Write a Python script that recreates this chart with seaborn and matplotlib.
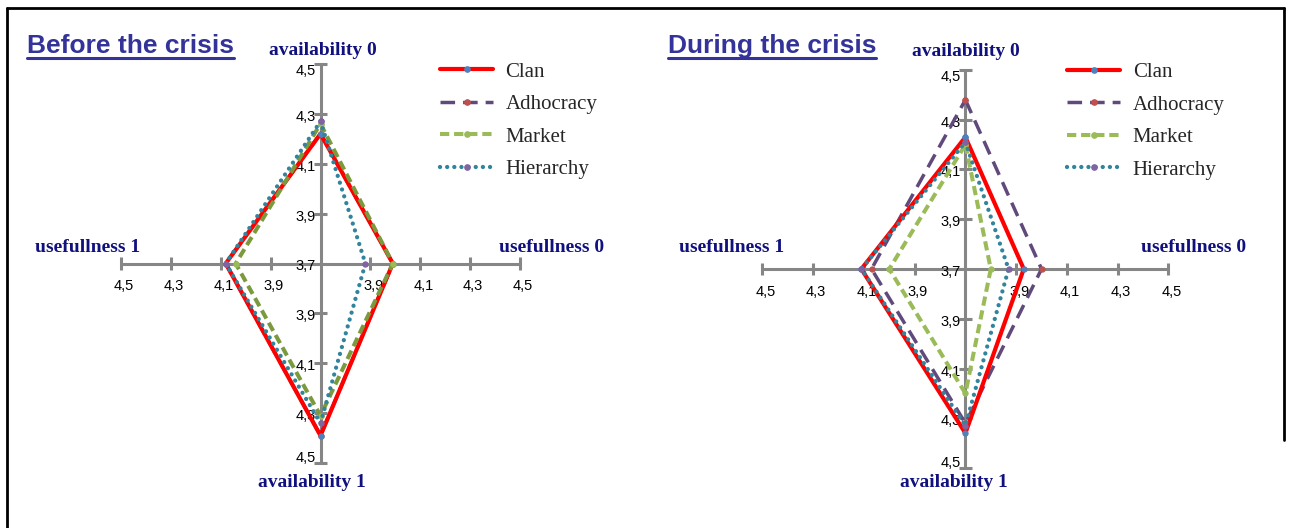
import matplotlib
matplotlib.use("Agg")
import matplotlib.pyplot as plt
from matplotlib.lines import Line2D
from matplotlib.font_manager import FontProperties
import pandas as pd
import seaborn as sns

# ---------------- data ----------------
axis_names = ["availability 0", "usefullness 0", "availability 1", "usefullness 1"]
series_names = ["Clan", "Adhocracy", "Market", "Hierarchy"]
tick_values = [3.7, 3.9, 4.1, 4.3, 4.5]
tick_labels = ["3,7", "3,9", "4,1", "4,3", "4,5"]
panel_titles = ["Before the crisis", "During the crisis"]

# values in order: availability 0, usefullness 0, availability 1, usefullness 1
before_clan = [4.22, 3.99, 4.39, 4.08]
before_adhocracy = [4.22, 3.99, 4.39, 4.08]
before_market = [4.26, 3.99, 4.31, 4.04]
before_hierarchy = [4.27, 3.88, 4.34, 4.08]

during_clan = [4.23, 3.93, 4.36, 4.11]
during_adhocracy = [4.38, 4.00, 4.32, 4.07]
during_market = [4.20, 3.80, 4.20, 4.00]
during_hierarchy = [4.21, 3.87, 4.33, 4.11]

# ---------------- styles ----------------
sns.set_theme(style="white")
plt.rcParams["font.family"] = ["DejaVu Sans"]

line_colors = {"Clan": "#FF0000", "Adhocracy": "#604A7B", "Market": "#9BBB59", "Hierarchy": "#31849B"}
marker_colors = {"Clan": "#4F81BD", "Adhocracy": "#C0504D", "Market": "#9BBB59", "Hierarchy": "#8064A2"}
line_styles = {"Clan": "-", "Adhocracy": (0, (4.2, 2.3)), "Market": (0, (2.3, 1.2)),
               "Hierarchy": (0, (0.01, 1.65))}
line_widths = {"Clan": 3.0, "Adhocracy": 2.5, "Market": 2.9, "Hierarchy": 3.1}
series_z = {"Clan": 4.0, "Adhocracy": 3.8, "Market": 4.1, "Hierarchy": 4.2}
axis_color = "#868686"
name_color = "#10107F"
title_color = "#333399"

W, H = 1292, 528
fig = plt.figure(figsize=(W / 100, H / 100), dpi=100)
fig.patch.set_facecolor("white")

dirs = [(0, 1), (1, 0), (0, -1), (-1, 0)]
origin = tick_values[0]
span = tick_values[-1] - origin


def polygon_frame(values, name):
    xs, ys = [], []
    for (dx, dy), v in zip(dirs, values):
        r = v - origin
        xs.append(dx * r)
        ys.append(dy * r)
    xs.append(xs[0])
    ys.append(ys[0])
    return pd.DataFrame({"x": xs, "y": ys, "series": name, "step": range(len(xs))})


def px2pt(p):
    return p * 72.0 / 100.0


def draw_panel(rect, panel_values, colors, name_pos, title, title_x):
    ax = fig.add_axes(rect)
    ax.set_xlim(-0.9, 0.9)
    ax.set_ylim(-0.9, 0.9)
    ax.axis("off")

    # axes cross
    ax.plot([-span, span], [0, 0], color=axis_color, lw=2.2, solid_capstyle="butt", zorder=1)
    ax.plot([0, 0], [-span, span], color=axis_color, lw=2.2, solid_capstyle="butt", zorder=1)
    tl = 0.025
    for t in tick_values[1:]:
        r = t - origin
        for s in (-1, 1):
            ax.plot([s * r, s * r], [-tl, tl], color=axis_color, lw=2.2, solid_capstyle="butt", zorder=1)
            ax.plot([-tl, tl], [s * r, s * r], color=axis_color, lw=2.2, solid_capstyle="butt", zorder=1)

    tick_font = dict(family="Liberation Sans", size=10.5, color="black")
    # vertical axis labels
    for t, lab in zip(tick_values, tick_labels):
        r = t - origin
        sides = (1,) if r == 0 else (1, -1)
        for s in sides:
            if t == tick_values[-1]:
                dy = -11 if s == 1 else 1
            else:
                dy = -7
            ax.annotate(lab, xy=(0, s * r), xytext=(px2pt(-5), px2pt(dy)),
                        textcoords="offset points", ha="right", va="baseline", zorder=3, **tick_font)
    # horizontal axis labels
    for t, lab in zip(tick_values[1:], tick_labels[1:]):
        r = t - origin
        for s in (-1, 1):
            ax.annotate(lab, xy=(s * r, 0), xytext=(px2pt(3), px2pt(-27)),
                        textcoords="offset points", ha="center", va="baseline", zorder=3, **tick_font)

    # series
    for name, vals in zip(series_names, panel_values):
        df = polygon_frame(vals, name)
        sns.lineplot(data=df, x="x", y="y", sort=False, estimator=None, ax=ax,
                     color=colors[name], linestyle=line_styles[name], lw=line_widths[name],
                     dash_capstyle="round" if name == "Hierarchy" else "butt",
                     marker="o", ms=3.8, mfc=marker_colors[name], mec=marker_colors[name],
                     legend=False, zorder=series_z[name])

    # axis names
    name_font = dict(family="Liberation Serif", size=14, weight="bold", color=name_color)
    for label, (x, y, ha) in zip(axis_names, name_pos):
        ax.text(x, y, label, ha=ha, va="baseline", **name_font)

    # title
    t = fig.text(title_x / W, 1 - 53 / H, title, ha="left", va="baseline",
                 family="Liberation Sans", weight="bold", size=19, color=title_color)
    return ax, t


axL, tL = draw_panel(
    [(320.5 - 224.5) / W, (H - 263.5 - 224.5) / H, 449 / W, 449 / H],
    [before_clan, before_adhocracy, before_market, before_hierarchy],
    {**line_colors, "Market": "#7A9A3D"},
    [(0.01, 0.836, "center"), (0.715, 0.047, "left"), (-0.034, -0.895, "center"), (-0.724, 0.047, "right")],
    panel_titles[0], 27)

axR, tR = draw_panel(
    [(965.4 - 228.4) / W, (H - 269 - 223.9) / H, 456.8 / W, 447.8 / H],
    [during_clan, during_adhocracy, during_market, during_hierarchy],
    line_colors,
    [(0.0, 0.856, "center"), (0.69, 0.07, "left"), (-0.045, -0.876, "center"), (-0.716, 0.07, "right")],
    panel_titles[1], 668)

# legends
handles = [Line2D([], [], color=line_colors[n], linestyle=line_styles[n], lw=line_widths[n],
                  dash_capstyle="round" if n == "Hierarchy" else "butt",
                  marker="o", ms=3.8, mfc=marker_colors[n], mec=marker_colors[n])
           for n in series_names]
leg_font = FontProperties(family="Liberation Serif", size=15)
for lx, ltop in ((440, 62), (1067, 62.5)):
    fig.legend(handles=handles, labels=series_names, loc="upper left",
               bbox_to_anchor=(lx / W, 1 - ltop / H), frameon=False, borderpad=0,
               borderaxespad=0, handlelength=2.55, handletextpad=0.6, labelspacing=0.62,
               numpoints=1, prop=leg_font)

# underline titles
fig.canvas.draw()
for t in (tL, tR):
    bb = t.get_window_extent()
    y = (H - 57.5) / H
    fig.add_artist(Line2D([bb.x0 / W, bb.x1 / W], [y, y], transform=fig.transFigure,
                          color=title_color, lw=2.2))

# frame
fig.add_artist(Line2D([7 / W, 7 / W], [0, 1 - 8 / H], transform=fig.transFigure, color="black", lw=2))
fig.add_artist(Line2D([7 / W, 1284 / W], [1 - 8 / H, 1 - 8 / H], transform=fig.transFigure, color="black", lw=2))
fig.add_artist(Line2D([1284 / W, 1284 / W], [1 - 8 / H, 1 - 440 / H], transform=fig.transFigure, color="black", lw=2))

fig.savefig("out.png", dpi=100)
